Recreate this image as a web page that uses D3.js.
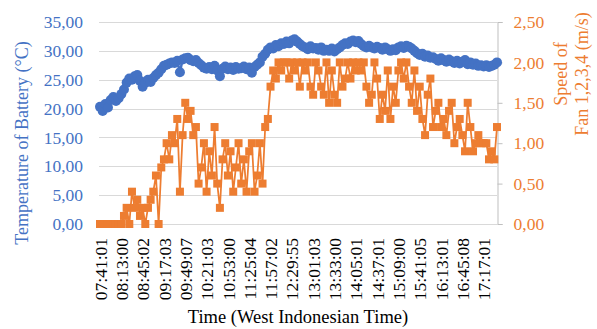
<html>
<head>
<meta charset="utf-8">
<style>
  body { margin: 0; background: #fff; }
</style>
</head>
<body>
<svg id="svg" width="597" height="329"></svg>
<script src="https://cdn.jsdelivr.net/npm/d3@7"></script>
<script>
// readings every 4 minutes, 07:41 .. 17:37
const tickLabels = ["07:41:01","08:13:00","08:45:02","09:17:03","09:49:07","10:21:03",
  "10:53:00","11:25:04","11:57:02","12:29:55","13:01:03","13:33:00","14:05:01",
  "14:37:01","15:09:00","15:41:05","16:13:01","16:45:08","17:17:01"];
const tickEvery = 8;

const temperature = [
  20.3,19.6,20.8,20.2,21.5,22.0,21.3,21.8,22.5,23.3,
  24.5,25.2,25.0,25.6,25.8,24.8,23.8,24.5,25.0,24.6,
  25.3,25.8,26.2,26.8,27.4,27.6,27.8,28.0,27.9,28.3,
  26.3,28.5,28.7,28.8,28.4,28.2,28.4,27.9,27.5,27.1,
  26.9,27.2,26.8,27.4,26.6,25.6,26.9,27.3,26.8,27.1,
  26.7,27.2,26.9,27.0,27.3,26.8,27.1,26.2,27.2,27.6,
  28.0,29.0,29.5,30.2,30.6,30.4,31.0,30.8,31.3,31.2,
  31.6,31.3,31.8,32.0,31.6,31.2,30.8,30.6,30.3,30.8,
  30.4,30.5,30.2,30.6,30.0,30.2,30.0,30.4,29.9,30.3,
  30.6,31.0,31.3,31.2,31.6,31.8,31.5,31.7,31.2,30.8,
  30.6,30.9,30.6,30.4,30.7,30.5,30.2,30.6,30.3,30.0,
  30.3,30.1,30.6,30.8,30.5,30.9,30.7,30.4,30.0,29.6,
  29.3,29.5,29.0,29.2,28.8,28.9,28.6,28.3,28.7,28.4,
  28.1,28.5,28.2,27.9,28.3,27.8,28.1,28.4,27.7,28.0,
  27.6,27.8,27.4,27.5,27.3,27.5,27.2,27.4,27.6,28.0
];

const fanSpeed = [
  0,0,0,0,0,0,0,0,0,0.1,
  0.2,0,0.4,0.2,0.3,0.1,0.2,0,0.2,0.3,
  0.4,0.6,0,0.7,0.8,1.0,0.8,1.1,1.0,1.3,
  0.4,1.1,1.5,1.3,1.4,1.1,1.2,0.5,0.7,1.0,
  0.4,0.9,0.6,1.2,0.5,0.2,0.8,1.0,0.6,0.9,
  0.4,0.7,1.0,0.5,0.8,0.4,0.9,1.0,0.4,0.6,
  1.0,0.5,1.2,1.3,1.7,1.9,1.8,2.0,1.9,2.0,
  2.0,1.8,2.0,1.9,2.0,1.7,2.0,1.9,2.0,1.7,
  1.6,2.0,1.9,1.7,1.6,2.0,1.5,1.9,1.6,1.5,
  2.0,1.7,1.8,2.0,1.8,2.0,1.9,2.0,1.9,2.0,
  1.7,1.5,1.6,2.0,1.8,1.3,1.6,1.4,1.9,1.3,
  1.7,1.5,1.9,2.0,1.8,2.0,1.7,1.5,1.9,1.4,
  1.7,1.3,1.1,1.6,1.8,1.2,1.4,1.5,1.2,1.3,
  1.1,1.4,1.5,1.0,1.2,1.3,1.1,0.9,1.5,1.2,
  0.9,1.0,1.1,1.0,1.0,1.0,0.8,0.9,0.8,1.2
];

const tempTicks = [0,5,10,15,20,25,30,35];
const speedTicks = [0,0.5,1,1.5,2,2.5];

const blue = "#4472C4", orange = "#ED7D31";
const serif = "'Liberation Serif', 'Times New Roman', 'DejaVu Serif', serif";
const locale = d3.formatLocale({decimal: ",", thousands: ".", grouping: [3], currency: ["", ""]});
const fmt = locale.format(".2f");

const svg = d3.select("#svg");
const n = temperature.length;
const x = d3.scaleLinear().domain([0, n - 1]).range([100, 497]);
const yT = d3.scaleLinear().domain([0, 35]).range([224, 22]);
const yS = d3.scaleLinear().domain([0, 2.5]).range([224, 22]);

// gridlines
svg.append("g").selectAll("line").data(tempTicks).enter().append("line")
  .attr("x1", 99).attr("x2", 497)
  .attr("y1", d => Math.round(yT(d)) + 0.5).attr("y2", d => Math.round(yT(d)) + 0.5)
  .style("stroke", "#D9D9D9").style("stroke-width", "1px");

// left axis labels
svg.append("g").selectAll("text").data(tempTicks).enter().append("text")
  .attr("x", 83).attr("y", d => yT(d)).attr("dy", "0.35em")
  .attr("text-anchor", "end").attr("font-size", 17.5).attr("fill", blue)
  .text(d => fmt(d));

// right axis
const ra = svg.append("g").attr("transform", "translate(497.5,0)")
  .call(d3.axisRight(yS).tickValues(speedTicks).tickSize(5).tickFormat(d => fmt(d)).tickPadding(11));
ra.select(".domain").attr("stroke", "#BFBFBF");
ra.selectAll(".tick line").attr("stroke", "#BFBFBF");
ra.selectAll(".tick text").attr("fill", orange).attr("font-size", 17.5);

// bottom axis labels
const xa = svg.append("g").attr("transform", "translate(0,224)")
  .call(d3.axisBottom(x)
    .tickValues(tickLabels.map((d, i) => i * tickEvery))
    .tickSize(0).tickFormat((d, i) => tickLabels[i]));
xa.select(".domain").remove();
xa.selectAll(".tick text")
  .attr("font-size", 17.5).attr("fill", "#000")
  .attr("text-anchor", "end").attr("transform", "translate(0,14) rotate(-90)")
  .attr("x", 0).attr("y", 0).attr("dy", "0.35em");

// temperature series
const lineT = d3.line().x((d, i) => x(i)).y(d => yT(d));
svg.append("path").datum(temperature).attr("d", lineT)
  .attr("fill", "none").attr("stroke", blue).attr("stroke-width", 2.5);
svg.append("g").selectAll("circle").data(temperature).enter().append("circle")
  .attr("cx", (d, i) => x(i)).attr("cy", d => yT(d)).attr("r", 5)
  .attr("fill", blue);

// fan speed series
const lineS = d3.line().x((d, i) => x(i)).y(d => yS(d));
svg.append("path").datum(fanSpeed).attr("d", lineS)
  .attr("fill", "none").attr("stroke", orange).attr("stroke-width", 1.75);
svg.append("g").selectAll("rect").data(fanSpeed).enter().append("rect")
  .attr("x", (d, i) => x(i) - 4).attr("y", d => yS(d) - 4)
  .attr("width", 8).attr("height", 8).attr("fill", orange);

// titles
svg.append("text").attr("transform", "translate(28,143) rotate(-90)")
  .attr("text-anchor", "middle").attr("font-size", 18).attr("fill", blue)
  .text("Temperature of Battery (°C)");
svg.append("text").attr("transform", "translate(567,74) rotate(-90)")
  .attr("text-anchor", "middle").attr("font-size", 18).attr("fill", orange)
  .text("Speed of");
svg.append("text").attr("transform", "translate(588,74) rotate(-90)")
  .attr("text-anchor", "middle").attr("font-size", 18).attr("fill", orange)
  .text("Fan 1,2,3,4 (m/s)");
svg.append("text").attr("x", 298).attr("y", 323)
  .attr("text-anchor", "middle").attr("font-size", 18.5).attr("fill", "#000")
  .text("Time (West Indonesian Time)");

svg.selectAll("text").style("font-family", serif);
</script>
</body>
</html>
